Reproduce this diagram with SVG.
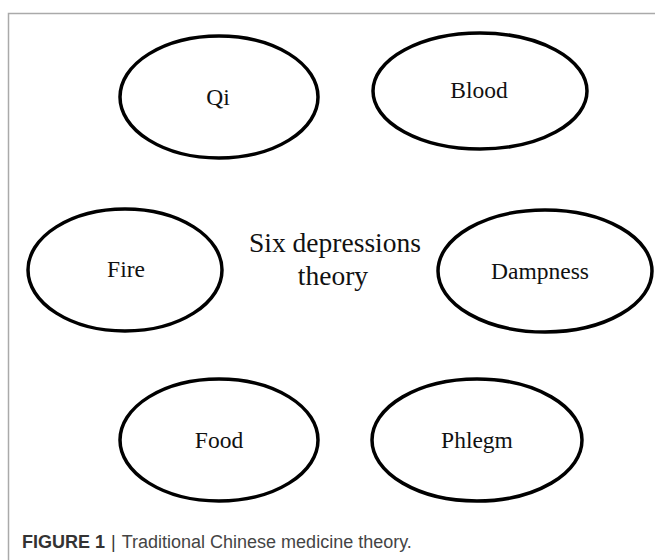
<svg xmlns="http://www.w3.org/2000/svg" width="655" height="560" viewBox="0 0 655 560">
<style>
.n ellipse{fill:#fff;stroke:#000;stroke-width:3.5}
.n text{font-family:"Liberation Serif","Times New Roman",serif;font-size:23.5px;text-anchor:middle;fill:#111}
.c{font-family:"Liberation Serif","Times New Roman",serif;font-size:27.5px;text-anchor:middle;fill:#111}
.frame{stroke:#aaa;stroke-width:1.5;fill:none}
.cap{font-family:"Liberation Sans",Arial,sans-serif;font-size:18px;fill:#333}
</style>
<rect width="655" height="560" fill="#fff"/>
<path class="frame" d="M8.5,560 V13.5 H655"/>
<g id="qi" class="n"><ellipse cx="219" cy="97" rx="99" ry="61"/><text x="218" y="105">Qi</text></g>
<g id="blood" class="n"><ellipse cx="480" cy="91" rx="107" ry="58"/><text x="479" y="98">Blood</text></g>
<g id="fire" class="n"><ellipse cx="125" cy="270" rx="97" ry="61"/><text x="126" y="277">Fire</text></g>
<g id="dampness" class="n"><ellipse cx="545" cy="271" rx="107" ry="61"/><text x="540" y="279">Dampness</text></g>
<g id="food" class="n"><ellipse cx="219" cy="440" rx="99" ry="61"/><text x="219" y="448">Food</text></g>
<g id="phlegm" class="n"><ellipse cx="477" cy="440" rx="105" ry="61"/><text x="477" y="448">Phlegm</text></g>
<g id="center"><text class="c" x="335" y="252">Six depressions</text><text class="c" x="333" y="285">theory</text></g>
<g id="connectors"/>
<text class="cap" x="22" y="548"><tspan font-weight="bold">FIGURE 1</tspan><tspan dx="6">|</tspan><tspan dx="6" fill="#444">Traditional Chinese medicine theory.</tspan></text>
</svg>
